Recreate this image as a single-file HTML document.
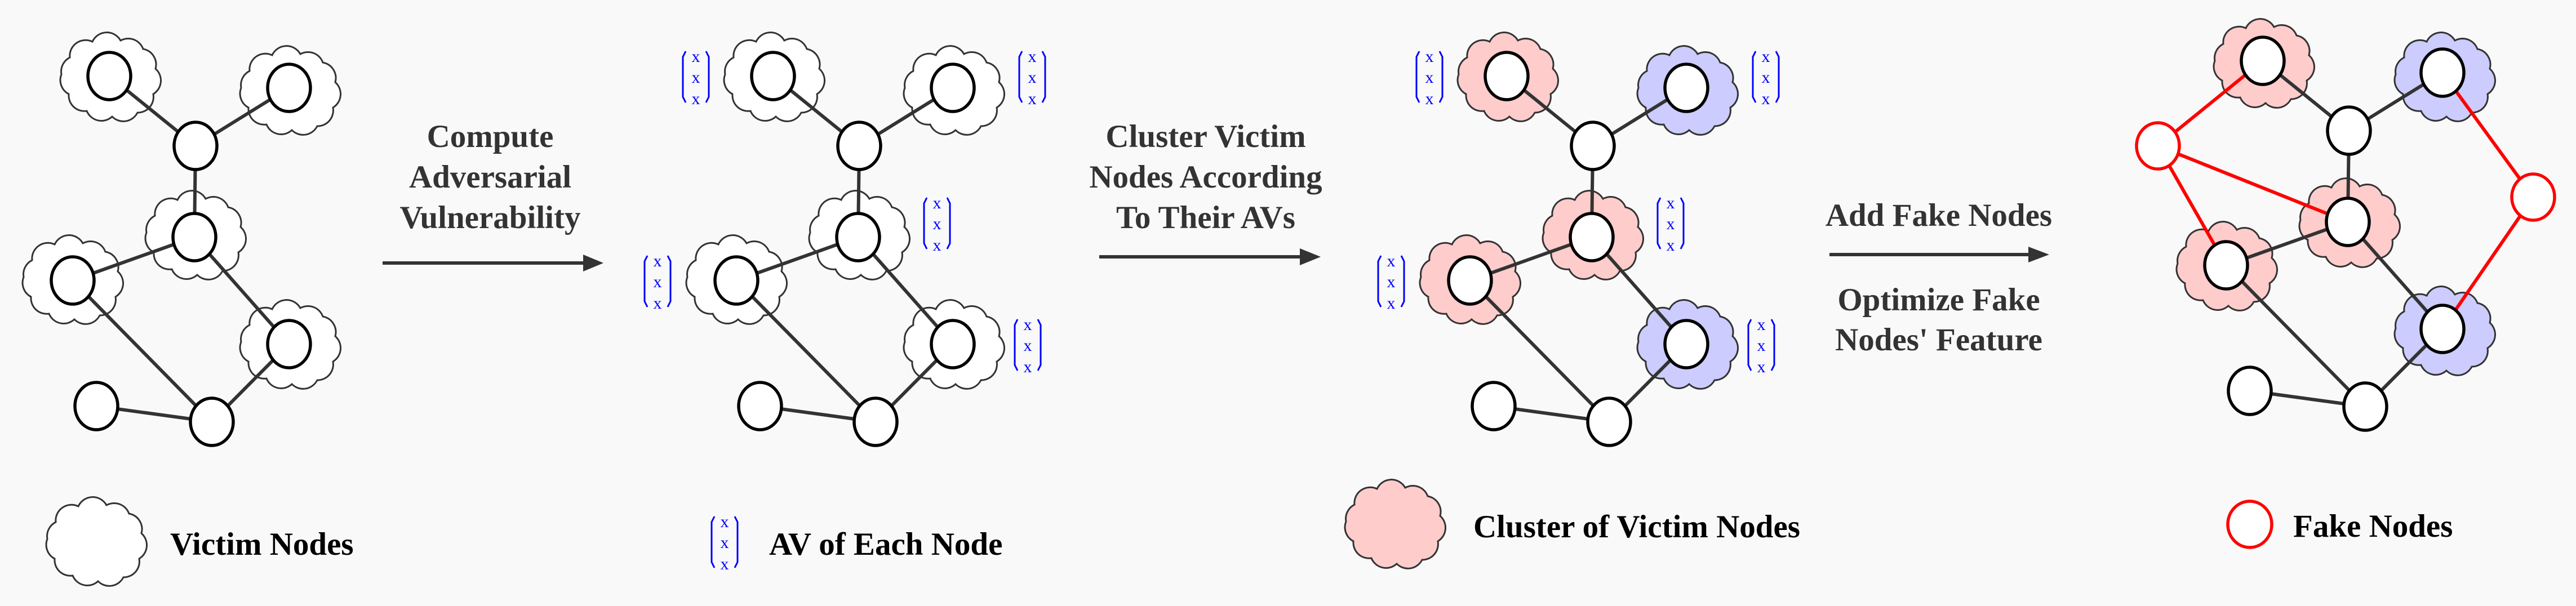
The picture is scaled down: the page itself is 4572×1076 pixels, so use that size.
<!DOCTYPE html>
<html><head><meta charset="utf-8"><style>
html,body{margin:0;padding:0;background:#f9f9f9;}
svg{display:block;}
text{font-family:"Liberation Serif",serif;}
</style></head><body>
<svg width="4572" height="1076" viewBox="0 0 4572 1076" xmlns="http://www.w3.org/2000/svg">
<defs>
<path id="cl" d="M20,40 A28,28 0 0 1 60,12 A28,28 0 0 1 110,10 A28,28 0 0 1 150,25 A28,28 0 0 1 172,60 A28,28 0 0 1 168,105 A28,28 0 0 1 140,138 A28,28 0 0 1 95,145 A28,28 0 0 1 50,135 A28,28 0 0 1 18,105 A28,28 0 0 1 5,70 A28,28 0 0 1 20,40 Z" stroke="#333" stroke-width="3"/>
<g id="graph">
<g stroke="#333" stroke-width="6">
<line x1="194" y1="135" x2="347" y2="259"/>
<line x1="513" y1="156" x2="347" y2="259"/>
<line x1="347" y1="259" x2="345" y2="421"/>
<line x1="345" y1="421" x2="129" y2="498"/>
<line x1="345" y1="421" x2="513" y2="611"/>
<line x1="129" y1="498" x2="376" y2="749"/>
<line x1="513" y1="611" x2="376" y2="749"/>
<line x1="171" y1="721" x2="376" y2="749"/>
</g>
<g fill="#fff" stroke="#000" stroke-width="5.5">
<ellipse cx="194" cy="135" rx="38" ry="42"/>
<ellipse cx="513" cy="156" rx="38" ry="42"/>
<ellipse cx="347" cy="259" rx="38" ry="42"/>
<ellipse cx="345" cy="421" rx="38" ry="42"/>
<ellipse cx="129" cy="498" rx="38" ry="42"/>
<ellipse cx="513" cy="611" rx="38" ry="42"/>
<ellipse cx="171" cy="721" rx="38" ry="42"/>
<ellipse cx="376" cy="749" rx="38" ry="42"/>
</g>
</g>
<g id="av">
<path d="M5,0 L0,10 L0,81 L5,91 M41,0 L46,10 L46,81 L41,91" fill="none" stroke="#00f" stroke-width="3"/>
<text x="23" y="19" font-size="30" fill="#00f" text-anchor="middle">x</text>
<text x="23" y="56" font-size="30" fill="#00f" text-anchor="middle">x</text>
<text x="23" y="94" font-size="30" fill="#00f" text-anchor="middle">x</text>
</g>
</defs>

<!-- Panel 1 -->
<g fill="#fff">
<use href="#cl" transform="translate(104,62)"/>
<use href="#cl" transform="translate(423,86)"/>
<use href="#cl" transform="translate(255,343)"/>
<use href="#cl" transform="translate(37,422)"/>
<use href="#cl" transform="translate(423,537)"/>
</g>
<use href="#graph"/>
<use href="#cl" fill="#fff" transform="translate(79,887)"/>
<text x="302" y="985" font-size="57" font-weight="bold" fill="#000">Victim Nodes</text>

<!-- Arrow 1 -->
<g fill="#333" font-size="57" font-weight="bold" text-anchor="middle">
<text x="870" y="261">Compute</text>
<text x="870" y="333">Adversarial</text>
<text x="870" y="405">Vulnerability</text>
</g>
<line x1="679" y1="467" x2="1040" y2="467" stroke="#333" stroke-width="6"/>
<polygon points="1035,452 1071,467 1035,482" fill="#333"/>

<!-- Panel 2 -->
<g fill="#fff">
<use href="#cl" transform="translate(1282,62)"/>
<use href="#cl" transform="translate(1601,86)"/>
<use href="#cl" transform="translate(1433,343)"/>
<use href="#cl" transform="translate(1215,422)"/>
<use href="#cl" transform="translate(1601,537)"/>
</g>
<use href="#graph" transform="translate(1178,0)"/>
<use href="#av" transform="translate(1212,91)"/>
<use href="#av" transform="translate(1809,91)"/>
<use href="#av" transform="translate(1640,351)"/>
<use href="#av" transform="translate(1144,454)"/>
<use href="#av" transform="translate(1801,567)"/>
<use href="#av" transform="translate(1263,917)"/>
<text x="1365" y="985" font-size="57" font-weight="bold" fill="#000">AV of Each Node</text>

<!-- Arrow 2 -->
<g fill="#333" font-size="57" font-weight="bold" text-anchor="middle">
<text x="2140" y="261">Cluster Victim</text>
<text x="2140" y="333">Nodes According</text>
<text x="2140" y="405">To Their AVs</text>
</g>
<line x1="1951" y1="456" x2="2312" y2="456" stroke="#333" stroke-width="6"/>
<polygon points="2307,441 2344,456 2307,471" fill="#333"/>

<!-- Panel 3 -->
<use href="#cl" fill="#ffcccc" transform="translate(2584,62)"/>
<use href="#cl" fill="#ccccff" transform="translate(2903,86)"/>
<use href="#cl" fill="#ffcccc" transform="translate(2735,343)"/>
<use href="#cl" fill="#ffcccc" transform="translate(2517,422)"/>
<use href="#cl" fill="#ccccff" transform="translate(2903,537)"/>
<use href="#graph" transform="translate(2480,0)"/>
<use href="#av" transform="translate(2514,91)"/>
<use href="#av" transform="translate(3111,91)"/>
<use href="#av" transform="translate(2942,351)"/>
<use href="#av" transform="translate(2446,454)"/>
<use href="#av" transform="translate(3103,567)"/>
<use href="#cl" fill="#ffcccc" transform="translate(2384,856)"/>
<text x="2615" y="954" font-size="57" font-weight="bold" fill="#000">Cluster of Victim Nodes</text>

<!-- Arrow 3 -->
<g fill="#333" font-size="57" font-weight="bold" text-anchor="middle">
<text x="3441" y="401">Add Fake Nodes</text>
<text x="3441" y="551">Optimize Fake</text>
<text x="3441" y="622">Nodes' Feature</text>
</g>
<line x1="3247" y1="452" x2="3605" y2="452" stroke="#333" stroke-width="6"/>
<polygon points="3600,438 3637,452 3600,466" fill="#333"/>

<!-- Panel 4 -->
<use href="#cl" fill="#ffcccc" transform="translate(3926,38)"/>
<use href="#cl" fill="#ccccff" transform="translate(4247,62)"/>
<use href="#cl" fill="#ffcccc" transform="translate(4078,321)"/>
<use href="#cl" fill="#ffcccc" transform="translate(3860,398)"/>
<use href="#cl" fill="#ccccff" transform="translate(4247,513)"/>
<g stroke="#f00" stroke-width="6">
<line x1="3830" y1="259" x2="4016" y2="108"/>
<line x1="3830" y1="259" x2="4167" y2="394"/>
<line x1="3830" y1="259" x2="3951" y2="471"/>
<line x1="4496" y1="350" x2="4335" y2="129"/>
<line x1="4496" y1="350" x2="4335" y2="584"/>
</g>
<use href="#graph" transform="translate(3822,-27)"/>
<g fill="#fff" stroke="#f00" stroke-width="5.5">
<ellipse cx="3830" cy="259" rx="38" ry="41"/>
<ellipse cx="4496" cy="350" rx="38" ry="41"/>
<ellipse cx="3993" cy="931" rx="39" ry="41"/>
</g>
<text x="4070" y="953" font-size="57" font-weight="bold" fill="#000">Fake Nodes</text>
</svg>
</body></html>
